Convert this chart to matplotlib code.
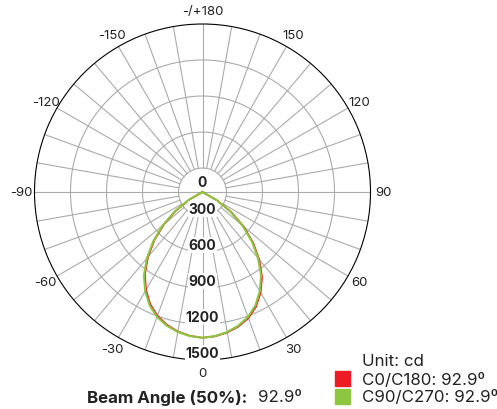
import numpy as np
import matplotlib.pyplot as plt
from matplotlib.patches import Rectangle

plt.rcParams['font.family'] = ['Inter', 'DejaVu Sans']

# =============================================================================
# Data (cd), gamma 0..90 deg step 5
# =============================================================================
gamma    = [0, 5, 10, 15, 20, 25, 30, 35, 40, 45, 50, 55, 60, 65, 70, 75, 80, 85, 90]
c0       = [1315, 1307, 1289, 1260, 1218, 1155, 1068, 965, 835, 695, 546, 395, 243, 88, 0, 0, 0, 0, 0]
c180     = [1315, 1303, 1281, 1246, 1198, 1131, 1042, 937, 807, 667, 520, 371, 223, 78, 0, 0, 0, 0, 0]
c90_270  = [1315, 1305, 1285, 1253, 1208, 1143, 1055, 951, 821, 681, 533, 383, 233, 83, 0, 0, 0, 0, 0]

ring_vals   = [300, 600, 900, 1200, 1500]
ang_ticks   = [0, 30, 60, 90, 120, 150, 180, -150, -120, -90, -60, -30]
ang_labels  = ['0', '30', '60', '90', '120', '150', '-/+180', '-150', '-120', '-90', '-60', '-30']
beam_c0     = 92.9
beam_c90    = 92.9
rmin, rmax  = 100, 1500

# =============================================================================
# Figure
# =============================================================================
fig = plt.figure(figsize=(4.97, 4.10), dpi=100)
ax = fig.add_axes([0.06942, 0.11951, 0.67606, 0.81951], projection='polar')
ax.set_theta_zero_location('S')
ax.set_theta_direction(1)
ax.set_ylim(rmin, rmax)
ax.grid(False)
ax.set_xticks([])
ax.set_yticks([])
ax.spines['polar'].set_color('black')
ax.spines['polar'].set_linewidth(0.8)

# rings and spokes
tt = np.linspace(0, 2 * np.pi, 361)
for rv in ring_vals[:-1]:
    ax.plot(tt, np.full_like(tt, rv), color='#ababab', lw=0.8, zorder=1)
for d in range(0, 360, 10):
    r0 = rmin if d in (90, 270) else ring_vals[0]
    ax.plot([np.deg2rad(d)] * 2, [r0, rmax], color='#ababab', lw=0.8, zorder=1)

# curves (values under rmin sit in the centre)
half = np.array(gamma)
th = np.deg2rad(np.concatenate([-half[::-1][:-1], half]))
red   = np.concatenate([np.array(c180)[::-1][:-1], c0])
green = np.concatenate([np.array(c90_270)[::-1][:-1], c90_270])
ax.plot(th, np.clip(red, rmin, None), color='#e8202a', lw=1.3, zorder=3,
        solid_joinstyle='round')
ax.plot(th, np.clip(green, rmin, None), color='#8cc63f', lw=1.5, zorder=4,
        solid_joinstyle='round')

# angle labels
for a, lab in zip(ang_ticks, ang_labels):
    ax.text(np.deg2rad(a), 1608, lab, ha='center', va='center',
            fontsize=9.5, color='#222222', clip_on=False)

# radial labels
box = dict(facecolor='white', edgecolor='none', pad=0.6)
ax.text(np.pi, 183, '0', ha='center', va='center', fontsize=10,
        fontweight='bold', color='#222222', bbox=box, zorder=5)
for rv in ring_vals:
    ax.text(0, rv - 58, str(rv), ha='center', va='center', fontsize=10,
            fontweight='bold', color='#222222', bbox=box, zorder=5)

# =============================================================================
# Legend and beam angle text (pixel positions from top left)
# =============================================================================
W, H = 497, 410
def fx(x): return x / W
def fy(y): return 1 - y / H

fig.text(fx(362), fy(362), 'Unit: cd', fontsize=12.2, va='center', color='#222222')
fig.patches.append(Rectangle((fx(335), fy(387)), 15 / W, 15 / H, color='#ed1c24',
                             transform=fig.transFigure))
fig.patches.append(Rectangle((fx(335), fy(405)), 15 / W, 15 / H, color='#8dc63f',
                             transform=fig.transFigure))
fig.text(fx(362), fy(381), 'C0/C180: %.1fº' % beam_c0, fontsize=12.2, va='center', color='#222222')
fig.text(fx(362), fy(398), 'C90/C270: %.1fº' % beam_c90, fontsize=12.2, va='center', color='#222222')

fig.text(fx(87), fy(398), 'Beam Angle (50%):', fontsize=12.2, fontweight='bold',
         va='center', color='#222222')
fig.text(fx(258), fy(398), '%.1fº' % beam_c0, fontsize=12.2, va='center', color='#222222')

fig.savefig('out.png', dpi=100)
